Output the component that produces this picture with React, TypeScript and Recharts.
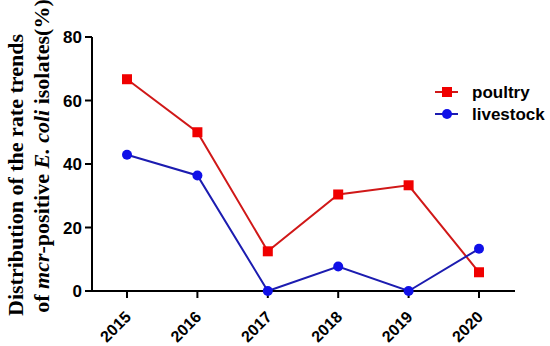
import { LineChart, Line, XAxis, YAxis } from 'recharts'

const YEARS = ['2015', '2016', '2017', '2018', '2019', '2020']
const POULTRY = [66.7, 50.0, 12.5, 30.4, 33.3, 5.9]
const LIVESTOCK = [42.9, 36.4, 0, 7.7, 0, 13.3]
const Y_TICKS = [0, 20, 40, 60, 80]

const RED_LINE = '#d01818'
const RED_MARK = '#f00000'
const BLUE_LINE = '#1c1cb0'
const BLUE_MARK = '#1010e8'

const data = YEARS.map((year, i) => ({ year, poultry: POULTRY[i], livestock: LIVESTOCK[i] }))

const Square = (props: any) => {
  const { cx, cy } = props
  if (cx == null || cy == null) return null
  return <rect x={cx - 5} y={cy - 5} width={10} height={10} fill={RED_MARK} />
}

const Dot = (props: any) => {
  const { cx, cy } = props
  if (cx == null || cy == null) return null
  return <circle cx={cx} cy={cy} r={5} fill={BLUE_MARK} />
}

const XTick = ({ x, y, payload }: any) => (
  <g transform={`translate(${x + 5},${y + 18})`}>
    <text transform="rotate(-45)" textAnchor="end" fontSize={16} fontWeight="bold"
      fontFamily="Liberation Sans, Arial, sans-serif" fill="#000">
      {payload.value}
    </text>
  </g>
)

const YLabel = () => (
  <g fontFamily="Liberation Serif, Times New Roman, serif" fontWeight="bold" fontSize={22} fill="#000">
    <text transform="translate(23,175) rotate(-90)" textAnchor="middle">
      Distribution of the rate trends
    </text>
    <text transform="translate(49,156) rotate(-90)" textAnchor="middle">
      of <tspan fontStyle="italic">mcr</tspan>-positive <tspan fontStyle="italic">E. coli</tspan> isolates(%)
    </text>
  </g>
)

const LegendBox = () => (
  <g fontFamily="Liberation Sans, Arial, sans-serif" fontWeight="bold" fontSize={17} fill="#000">
    <line x1={435} x2={458} y1={92} y2={92} stroke={RED_LINE} strokeWidth={2} />
    <rect x={442} y={87} width={10} height={10} fill={RED_MARK} />
    <text x={472} y={98}>poultry</text>
    <line x1={435} x2={458} y1={114} y2={114} stroke={BLUE_LINE} strokeWidth={2} />
    <circle cx={447} cy={114} r={5} fill={BLUE_MARK} />
    <text x={472} y={120}>livestock</text>
  </g>
)

export default function App() {
  return (
    <div style={{ width: 550, height: 346, background: '#fff' }}>
      <style>{'body{margin:0}'}</style>
      <LineChart width={550} height={346} data={data} margin={{ top: 37, right: 35, left: 0, bottom: 0 }}>
        <XAxis
          dataKey="year"
          padding={{ left: 35, right: 36 }}
          height={55}
          tick={<XTick />}
          tickSize={7}
          axisLine={{ stroke: '#000', strokeWidth: 2 }}
          tickLine={{ stroke: '#000', strokeWidth: 2 }}
          interval={0}
        />
        <YAxis
          domain={[0, 80]}
          ticks={Y_TICKS}
          width={92}
          tickSize={7}
          tickMargin={3}
          axisLine={{ stroke: '#000', strokeWidth: 2 }}
          tickLine={{ stroke: '#000', strokeWidth: 2 }}
          tick={{ fill: '#000', fontSize: 17, fontWeight: 'bold', fontFamily: 'Liberation Sans, Arial, sans-serif' }}
        />
        <Line dataKey="poultry" stroke={RED_LINE} strokeWidth={2} dot={<Square />} activeDot={false} isAnimationActive={false} />
        <Line dataKey="livestock" stroke={BLUE_LINE} strokeWidth={2} dot={<Dot />} activeDot={false} isAnimationActive={false} />
        <YLabel />
        <LegendBox />
      </LineChart>
    </div>
  )
}
